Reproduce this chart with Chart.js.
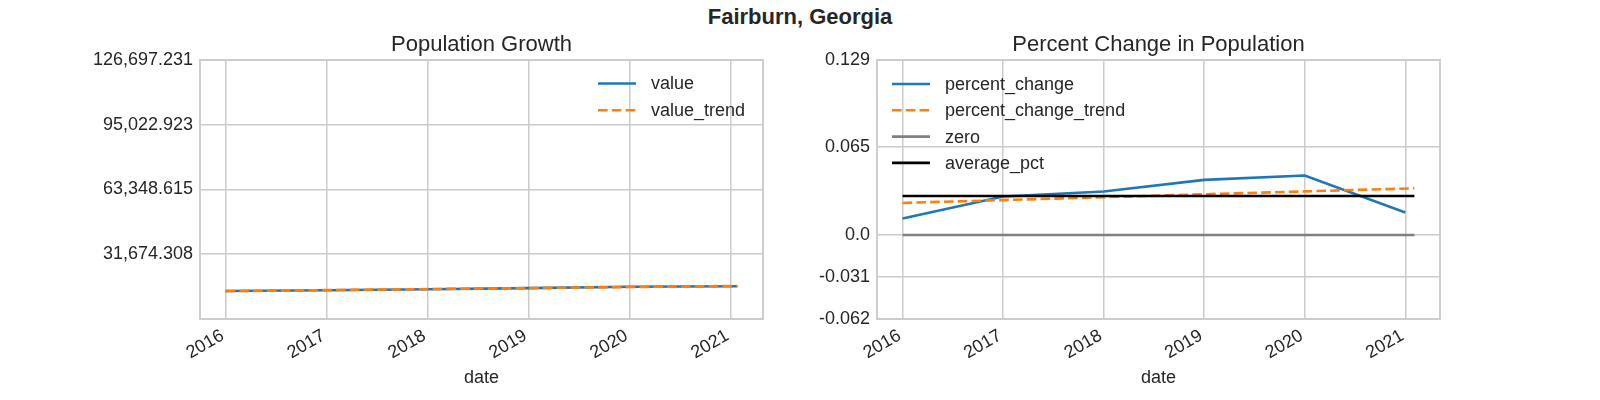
<!DOCTYPE html>
<html>
<head>
<meta charset="utf-8">
<title>Fairburn, Georgia</title>
<script src="https://cdn.jsdelivr.net/npm/chart.js@4.4.1/dist/chart.umd.min.js"></script>
<style>
  body { margin: 0; background: #fff; }
  #wrap { position: relative; width: 1600px; height: 400px; overflow: hidden; }
  #suptitle {
    position: absolute; left: 0; top: 4px; width: 1600px; text-align: center;
    font: bold 22px "Liberation Sans", Arial, sans-serif; color: #262626;
  }
  canvas { position: absolute; top: 0; }
</style>
</head>
<body>
<div id="wrap">
  <div id="suptitle">Fairburn, Georgia</div>
  <canvas id="popChart" width="800" height="400" style="left:0"></canvas>
  <canvas id="pctChart" width="800" height="400" style="left:800px"></canvas>
</div>
<script>
// --- data ---
const popDates = ['2016-01-01', '2017-01-01', '2018-01-01', '2019-01-01', '2020-01-01', '2021-01-26'];
const popValues = [13700, 14090, 14540, 15120, 15790, 16050];
const popTrend = [13630, 14130, 14630, 15130, 15630, 16160];
const popTickValues = [0, 31674.308, 63348.615, 95022.923, 126697.231];
const popTickLabels = ['', '31,674.308', '63,348.615', '95,022.923', '126,697.231'];

const pctDates = ['2016-01-01', '2017-01-01', '2018-01-01', '2019-01-01', '2020-01-01', '2021-01-01'];
const pctValues = [0.0121, 0.0283, 0.0320, 0.0406, 0.0438, 0.0165];
const refDates = ['2016-01-01', '2017-01-01', '2018-01-01', '2019-01-01', '2020-01-01', '2021-02-03'];
const pctTrend = [0.0236, 0.0257, 0.0278, 0.0300, 0.0321, 0.0344];
const zeroLine = [0, 0, 0, 0, 0, 0];
const avgPct = [0.0287, 0.0287, 0.0287, 0.0287, 0.0287, 0.0287];
const pctTickValues = [-0.062, -0.031, 0, 0.065, 0.129];
const pctTickLabels = ['-0.062', '-0.031', '0.0', '0.065', '0.129'];

const yearTicks = [2016, 2017, 2018, 2019, 2020, 2021];

const TXT = '#262626';
const GRID = '#cccccc';
const BLUE = '#1f77b4';
const ORANGE = '#ff7f0e';
const FONT = '"Liberation Sans", Arial, sans-serif';

Chart.defaults.font.family = FONT;
Chart.defaults.font.size = 18;
Chart.defaults.color = TXT;

// date string -> decimal year
function toYear(d) {
    const t = new Date(d + 'T00:00:00Z');
    const y = t.getUTCFullYear();
    return y + (t - Date.UTC(y, 0, 1)) / (365 * 864e5);
}

function points(dates, values) {
    return dates.map((d, i) => ({ x: toYear(d), y: values[i] }));
}

// matplotlib style 5% margin on x
function xLimits(dates) {
    const xs = dates.map(toYear);
    const lo = Math.min(...xs), hi = Math.max(...xs);
    return { min: lo - 0.05 * (hi - lo), max: hi + 0.05 * (hi - lo) };
}

// frame + subplot title + legend inside the axes
const axesDecor = {
    id: 'axesDecor',
    afterDraw(chart, args, opts) {
        const { ctx, chartArea: a } = chart;
        ctx.save();
        ctx.strokeStyle = GRID;
        ctx.lineWidth = 1.9;
        ctx.strokeRect(a.left, a.top, a.right - a.left, a.bottom - a.top);

        ctx.fillStyle = TXT;
        ctx.font = '22px ' + FONT;
        ctx.textAlign = 'center';
        ctx.textBaseline = 'alphabetic';
        ctx.fillText(opts.title, (a.left + a.right) / 2, a.top - 9);

        ctx.font = '18px ' + FONT;
        ctx.textAlign = 'left';
        ctx.textBaseline = 'middle';
        chart.data.datasets.forEach((ds, i) => {
            const x = a.left + opts.left;
            const y = a.top + opts.top + i * opts.rowGap;
            ctx.strokeStyle = ds.borderColor;
            ctx.lineWidth = ds.borderWidth;
            ctx.setLineDash(ds.borderDash || []);
            ctx.beginPath();
            ctx.moveTo(x, y);
            ctx.lineTo(x + 38, y);
            ctx.stroke();
            ctx.setLineDash([]);
            ctx.fillText(ds.label, x + 53, y + 1);
        });
        ctx.restore();
    }
};

function makeChart(id, datasets, cfg) {
    return new Chart(document.getElementById(id), {
        type: 'line',
        data: { datasets },
        options: {
            responsive: false,
            animation: false,
            layout: { padding: { top: 60, right: cfg.rightPad, left: 0, bottom: 0 } },
            elements: { point: { radius: 0 }, line: { tension: 0 } },
            plugins: {
                legend: { display: false },
                tooltip: { enabled: false },
                axesDecor: cfg.decor
            },
            scales: {
                x: {
                    type: 'linear',
                    min: cfg.xlim.min,
                    max: cfg.xlim.max,
                    afterBuildTicks: s => { s.ticks = yearTicks.map(v => ({ value: v })); },
                    afterFit: s => { s.height = 81; },
                    grid: { color: GRID, lineWidth: 1.5, drawTicks: false },
                    border: { display: false },
                    ticks: {
                        autoSkip: false, minRotation: 30, maxRotation: 30, padding: 6,
                        labelOffset: -3,
                        callback: v => String(v)
                    },
                    title: { display: true, text: 'date', padding: { top: 0, bottom: 11 } }
                },
                y: {
                    type: 'linear',
                    min: cfg.yTicks[0],
                    max: cfg.yTicks[cfg.yTicks.length - 1],
                    afterBuildTicks: s => { s.ticks = cfg.yTicks.map(v => ({ value: v })); },
                    afterFit: s => { s.width = cfg.yWidth; },
                    grid: { color: GRID, lineWidth: 1.5, drawTicks: false },
                    border: { display: false },
                    ticks: { padding: 7, callback: (v, i) => cfg.yLabels[i] }
                }
            }
        },
        plugins: [axesDecor]
    });
}

// Population Growth
makeChart('popChart', [
    { label: 'value', data: points(popDates, popValues), borderColor: BLUE, borderWidth: 2.6, order: 2 },
    { label: 'value_trend', data: points(popDates, popTrend), borderColor: ORANGE, borderWidth: 2.6, borderDash: [9.6, 4.2], order: 1 }
], {
    xlim: xLimits(popDates),
    yTicks: popTickValues,
    yLabels: popTickLabels,
    yWidth: 200,
    rightPad: 37,
    decor: { title: 'Population Growth', left: 398, top: 23.5, rowGap: 26.7 }
});

// Percent Change in Population
makeChart('pctChart', [
    { label: 'percent_change', data: points(pctDates, pctValues), borderColor: BLUE, borderWidth: 2.6, order: 4 },
    { label: 'percent_change_trend', data: points(refDates, pctTrend), borderColor: ORANGE, borderWidth: 2.6, borderDash: [9.6, 4.2], order: 3 },
    { label: 'zero', data: points(refDates, zeroLine), borderColor: '#808080', borderWidth: 2.6, order: 2 },
    { label: 'average_pct', data: points(refDates, avgPct), borderColor: '#000000', borderWidth: 2.6, order: 1 }
], {
    xlim: xLimits(refDates),
    yTicks: pctTickValues,
    yLabels: pctTickLabels,
    yWidth: 77,
    rightPad: 160,
    decor: { title: 'Percent Change in Population', left: 15, top: 24, rowGap: 26.3 }
});
</script>
</body>
</html>
